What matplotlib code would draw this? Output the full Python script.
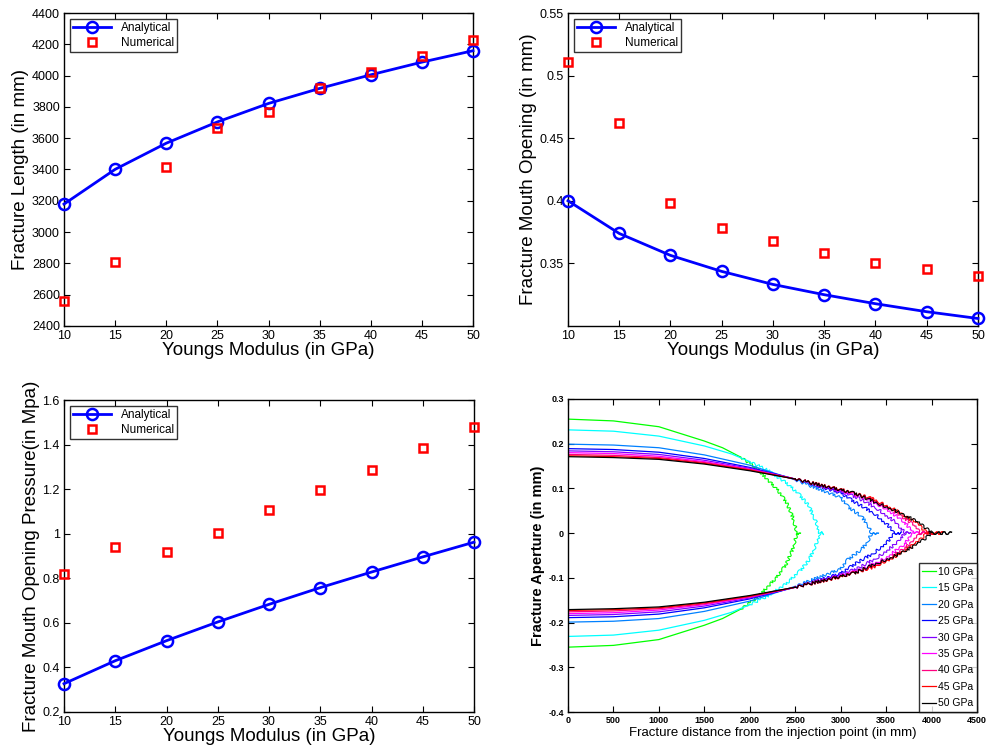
import matplotlib
matplotlib.use("Agg")
import matplotlib.pyplot as plt

plt.rcParams['font.family'] = ['Liberation Sans', 'DejaVu Sans']

# ---------------- data ----------------
modulus = [10, 15, 20, 25, 30, 35, 40, 45, 50]

length_analytical = [3179, 3401, 3568, 3704, 3822, 3918, 4005, 4086, 4159]
length_numerical = [2558, 2810, 3416, 3666, 3768, 3922, 4022, 4123, 4225]

opening_analytical = [0.400, 0.3739, 0.3564, 0.3436, 0.3332, 0.3250, 0.3178, 0.3114, 0.3060]
opening_numerical = [0.5108, 0.4619, 0.3984, 0.3779, 0.3680, 0.3585, 0.3505, 0.3452, 0.3401]

pressure_analytical = [0.327, 0.430, 0.520, 0.604, 0.683, 0.758, 0.828, 0.896, 0.962]
pressure_numerical = [0.819, 0.940, 0.920, 1.003, 1.105, 1.198, 1.288, 1.383, 1.479]

# aperture profiles (half-opening vs distance)
ap_x_10 = [0, 500, 1000, 1500, 1700, 1900, 2000, 2100, 2200, 2300, 2400, 2470, 2520, 2558]
ap_w_10 = [0.255, 0.251, 0.238, 0.206, 0.191, 0.170, 0.156, 0.140, 0.119, 0.098, 0.070, 0.037, 0.0, 0.0]
ap_x_15 = [0, 500, 1000, 1500, 1800, 2000, 2200, 2400, 2550, 2650, 2730, 2770, 2810]
ap_w_15 = [0.231, 0.228, 0.217, 0.195, 0.177, 0.160, 0.140, 0.113, 0.085, 0.061, 0.025, 0.0, 0.0]
ap_x_20 = [0, 500, 1000, 1500, 2000, 2500, 3000, 3080, 3230, 3300, 3340, 3416]
ap_w_20 = [0.199, 0.197, 0.191, 0.175, 0.152, 0.119, 0.080, 0.059, 0.037, 0.018, 0.0, 0.0]
ap_x_25 = [0, 500, 1000, 1500, 2000, 2500, 3000, 3150, 3370, 3520, 3590, 3666]
ap_w_25 = [0.189, 0.187, 0.181, 0.167, 0.147, 0.121, 0.090, 0.070, 0.044, 0.018, 0.0, 0.0]
ap_x_30 = [0, 500, 1000, 1500, 2000, 2500, 3000, 3200, 3400, 3600, 3710, 3768]
ap_w_30 = [0.184, 0.182, 0.176, 0.163, 0.145, 0.121, 0.093, 0.078, 0.055, 0.025, 0.0, 0.0]
ap_x_35 = [0, 500, 1000, 1500, 2000, 2500, 3000, 3250, 3500, 3700, 3800, 3922]
ap_w_35 = [0.180, 0.178, 0.172, 0.160, 0.143, 0.121, 0.095, 0.080, 0.055, 0.025, 0.0, 0.0]
ap_x_40 = [0, 500, 1000, 1500, 2000, 2500, 3000, 3300, 3550, 3780, 3880, 4022]
ap_w_40 = [0.176, 0.174, 0.169, 0.158, 0.142, 0.121, 0.097, 0.079, 0.055, 0.022, 0.0, 0.0]
ap_x_45 = [0, 500, 1000, 1500, 2000, 2500, 3000, 3350, 3600, 3850, 3950, 4123]
ap_w_45 = [0.173, 0.171, 0.167, 0.156, 0.141, 0.121, 0.098, 0.077, 0.052, 0.020, 0.0, 0.0]
ap_x_50 = [0, 500, 1000, 1500, 2000, 2500, 2930, 3150, 3370, 3590, 3810, 3920, 4005, 4220]
ap_w_50 = [0.171, 0.169, 0.165, 0.1545, 0.1395, 0.121, 0.100, 0.0895, 0.070, 0.0515, 0.029, 0.014, 0.0, 0.0]

profile_labels = ['10 GPa', '15 GPa', '20 GPa', '25 GPa', '30 GPa',
                  '35 GPa', '40 GPa', '45 GPa', '50 GPa']
profile_colors = ['#00ff00', '#00ffff', '#0080ff', '#0000ff', '#8000ff',
                  '#ff00ff', '#ff0080', '#ff0000', '#000000']
profiles_x = [ap_x_10, ap_x_15, ap_x_20, ap_x_25, ap_x_30, ap_x_35, ap_x_40, ap_x_45, ap_x_50]
profiles_w = [ap_w_10, ap_w_15, ap_w_20, ap_w_25, ap_w_30, ap_w_35, ap_w_40, ap_w_45, ap_w_50]

x_ticks = [10, 15, 20, 25, 30, 35, 40, 45, 50]

# ---------------- figure ----------------
fig = plt.figure(figsize=(9.87, 7.5), dpi=100)
W, H = 987.0, 750.0


def add_ax(l, t, r, b):
    return fig.add_axes([l / W, 1 - b / H, (r - l) / W, (b - t) / H])


ax1 = add_ax(64, 13, 473, 326)
ax2 = add_ax(568, 13, 978, 326)
ax3 = add_ax(64, 400, 474, 712)
ax4 = add_ax(568, 399, 977, 712)


def style(ax, size=9):
    ax.tick_params(direction='in', top=True, right=True, labelsize=size,
                   length=4, width=0.8, pad=3)
    for s in ax.spines.values():
        s.set_linewidth(1.0)


def series(ax, yan, ynu):
    ax.plot(modulus, yan, '-o', color='#0000ff', lw=2, ms=8, mfc='none',
            mew=1.8, label='Analytical', clip_on=False, zorder=3)
    ax.plot(modulus, ynu, 's', color='#ff0000', ms=5.5, mfc='none',
            mew=1.8, label='Numerical', ls='none', clip_on=False, zorder=4)
    ax.set_xlim(10, 50)
    ax.set_xticks(x_ticks)
    ax.set_xlabel('Youngs Modulus (in GPa)', fontsize=13.5, labelpad=0)
    leg = ax.legend(loc='upper left', fontsize=8.5, frameon=True, fancybox=False,
                    edgecolor='black', borderaxespad=0.5, handlelength=3.2,
                    borderpad=0.3, labelspacing=0.2, handletextpad=0.8)
    leg.get_frame().set_linewidth(1.0)
    leg.set_zorder(10)
    style(ax)


series(ax1, length_analytical, length_numerical)
ax1.set_ylim(2400, 4400)
ax1.set_yticks([2400, 2600, 2800, 3000, 3200, 3400, 3600, 3800, 4000, 4200, 4400])
ax1.set_ylabel('Fracture Length (in mm)', fontsize=13.5, labelpad=2)

series(ax2, opening_analytical, opening_numerical)
ax2.set_ylim(0.30, 0.55)
ax2.set_yticks([0.35, 0.40, 0.45, 0.50, 0.55])
ax2.set_yticklabels(['0.35', '0.4', '0.45', '0.5', '0.55'])
ax2.set_ylabel('Fracture Mouth Opening (in mm)', fontsize=13.5, labelpad=2)

series(ax3, pressure_analytical, pressure_numerical)
ax3.set_ylim(0.2, 1.6)
ax3.set_yticks([0.2, 0.4, 0.6, 0.8, 1.0, 1.2, 1.4, 1.6])
ax3.set_yticklabels(['0.2', '0.4', '0.6', '0.8', '1', '1.2', '1.4', '1.6'])
ax3.set_ylabel('Fracture Mouth Opening Pressure(in Mpa)', fontsize=13.5, labelpad=2)

for xs, ws, lab, col in zip(profiles_x, profiles_w, profile_labels, profile_colors):
    k = 5
    for sgn in (1, -1):
        ax4.plot(xs[:k + 1], [sgn * w for w in ws[:k + 1]], '-', color=col, lw=0.9,
                 label=lab if sgn == 1 else None)
        tip, = ax4.plot(xs[k:], [sgn * w for w in ws[k:]], '-', color=col, lw=0.8)
        tip.set_sketch_params(scale=1.4, length=5, randomness=3)
ax4.set_xlim(0, 4500)
ax4.set_ylim(-0.4, 0.3)
ax4.set_xticks([0, 500, 1000, 1500, 2000, 2500, 3000, 3500, 4000, 4500])
ax4.set_yticks([-0.4, -0.3, -0.2, -0.1, 0, 0.1, 0.2, 0.3])
ax4.set_yticklabels(['-0.4', '-0.3', '-0.2', '-0.1', '0', '0.1', '0.2', '0.3'])
style(ax4, size=6.5)
for t in ax4.get_xticklabels() + ax4.get_yticklabels():
    t.set_fontweight('bold')
ax4.set_xlabel('Fracture distance from the injection point (in mm)', fontsize=9.5,
               labelpad=1)
ax4.set_ylabel('Fracture Aperture (in mm)', fontsize=10.5, fontweight='bold',
               labelpad=2)
leg4 = ax4.legend(loc='lower right', prop={'size': 7.5},
                  frameon=True, fancybox=False, edgecolor='black',
                  handlelength=1.3, handletextpad=0.2, labelspacing=0.62,
                  borderpad=0.35, borderaxespad=0.0)
leg4.get_frame().set_linewidth(1.0)

fig.savefig('out.png', dpi=100)
